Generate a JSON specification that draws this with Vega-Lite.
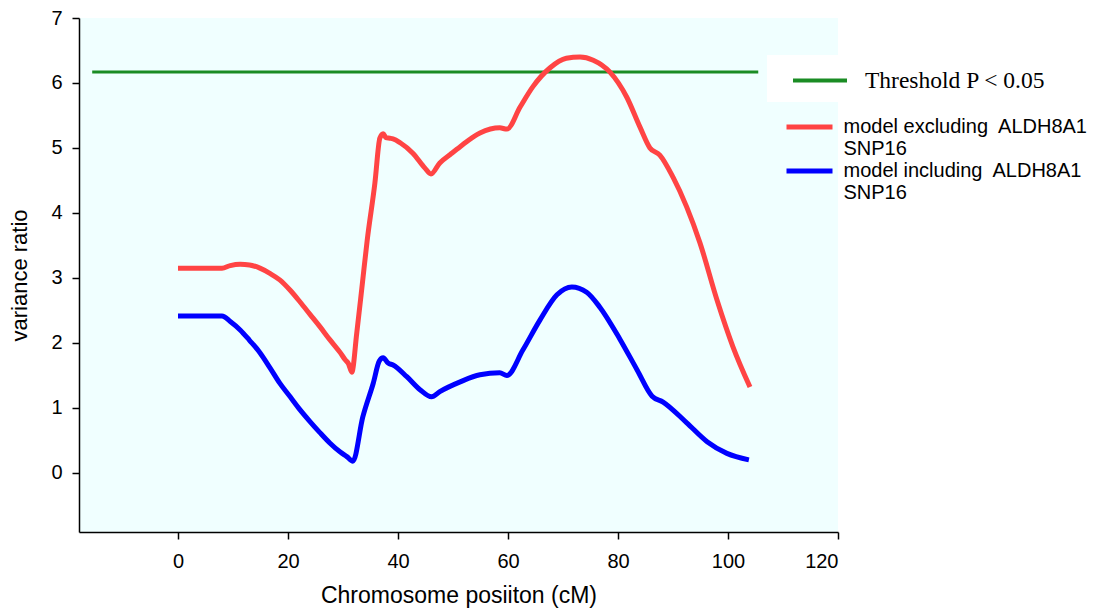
{
  "$schema": "https://vega.github.io/schema/vega-lite/v6.json",
  "width": 759,
  "height": 514,
  "autosize": {"type": "none"},
  "padding": {"left": 79, "top": 18, "right": 272, "bottom": 81},
  "background": "white",
  "config": {
    "view": {"fill": "#f0ffff", "stroke": null},
    "axis": {
      "grid": false,
      "domainColor": "black",
      "domainWidth": 1.5,
      "tickColor": "black",
      "tickWidth": 1.5,
      "tickSize": 7,
      "labelFont": "Liberation Sans",
      "labelFontSize": 20,
      "labelColor": "black",
      "titleFont": "Liberation Sans",
      "titleFontWeight": "normal",
      "titleColor": "black"
    }
  },
  "datasets": {
    "threshold": [
      {"pos": -15.6, "ratio": 6.17, "series": "Threshold P < 0.05"},
      {"pos": 105.5, "ratio": 6.17, "series": "Threshold P < 0.05"}
    ],
    "models": [
      {"pos": 0, "ratio": 3.15, "model": "model excluding"},
      {"pos": 4, "ratio": 3.15, "model": "model excluding"},
      {"pos": 8, "ratio": 3.15, "model": "model excluding"},
      {"pos": 9.5, "ratio": 3.19, "model": "model excluding"},
      {"pos": 11.3, "ratio": 3.21, "model": "model excluding"},
      {"pos": 13, "ratio": 3.2, "model": "model excluding"},
      {"pos": 14.9, "ratio": 3.15, "model": "model excluding"},
      {"pos": 16.7, "ratio": 3.07, "model": "model excluding"},
      {"pos": 18.5, "ratio": 2.97, "model": "model excluding"},
      {"pos": 20.4, "ratio": 2.81, "model": "model excluding"},
      {"pos": 22.2, "ratio": 2.63, "model": "model excluding"},
      {"pos": 24, "ratio": 2.44, "model": "model excluding"},
      {"pos": 25.8, "ratio": 2.25, "model": "model excluding"},
      {"pos": 27.6, "ratio": 2.05, "model": "model excluding"},
      {"pos": 29.5, "ratio": 1.85, "model": "model excluding"},
      {"pos": 30.4, "ratio": 1.74, "model": "model excluding"},
      {"pos": 31, "ratio": 1.68, "model": "model excluding"},
      {"pos": 31.6, "ratio": 1.55, "model": "model excluding"},
      {"pos": 32.5, "ratio": 2.15, "model": "model excluding"},
      {"pos": 33.5, "ratio": 2.9, "model": "model excluding"},
      {"pos": 34.4, "ratio": 3.58, "model": "model excluding"},
      {"pos": 35.8, "ratio": 4.46, "model": "model excluding"},
      {"pos": 36.7, "ratio": 5.15, "model": "model excluding"},
      {"pos": 37.3, "ratio": 5.22, "model": "model excluding"},
      {"pos": 37.8, "ratio": 5.16, "model": "model excluding"},
      {"pos": 38.5, "ratio": 5.15, "model": "model excluding"},
      {"pos": 39.1, "ratio": 5.14, "model": "model excluding"},
      {"pos": 40.4, "ratio": 5.08, "model": "model excluding"},
      {"pos": 42.7, "ratio": 4.92, "model": "model excluding"},
      {"pos": 44.9, "ratio": 4.69, "model": "model excluding"},
      {"pos": 46, "ratio": 4.6, "model": "model excluding"},
      {"pos": 47.6, "ratio": 4.77, "model": "model excluding"},
      {"pos": 49.5, "ratio": 4.9, "model": "model excluding"},
      {"pos": 51.3, "ratio": 5.02, "model": "model excluding"},
      {"pos": 54.9, "ratio": 5.23, "model": "model excluding"},
      {"pos": 58.5, "ratio": 5.31, "model": "model excluding"},
      {"pos": 59.8, "ratio": 5.29, "model": "model excluding"},
      {"pos": 62.2, "ratio": 5.63, "model": "model excluding"},
      {"pos": 64.5, "ratio": 5.94, "model": "model excluding"},
      {"pos": 67.6, "ratio": 6.23, "model": "model excluding"},
      {"pos": 70.6, "ratio": 6.38, "model": "model excluding"},
      {"pos": 73.1, "ratio": 6.4, "model": "model excluding"},
      {"pos": 75.5, "ratio": 6.35, "model": "model excluding"},
      {"pos": 78.5, "ratio": 6.17, "model": "model excluding"},
      {"pos": 81.6, "ratio": 5.78, "model": "model excluding"},
      {"pos": 84, "ratio": 5.32, "model": "model excluding"},
      {"pos": 85.8, "ratio": 5.0, "model": "model excluding"},
      {"pos": 87.6, "ratio": 4.89, "model": "model excluding"},
      {"pos": 90, "ratio": 4.55, "model": "model excluding"},
      {"pos": 92.5, "ratio": 4.09, "model": "model excluding"},
      {"pos": 94.9, "ratio": 3.54, "model": "model excluding"},
      {"pos": 98, "ratio": 2.66, "model": "model excluding"},
      {"pos": 100.9, "ratio": 1.94, "model": "model excluding"},
      {"pos": 104, "ratio": 1.32, "model": "model excluding"},
      {"pos": 0, "ratio": 2.415, "model": "model including"},
      {"pos": 4, "ratio": 2.415, "model": "model including"},
      {"pos": 8, "ratio": 2.415, "model": "model including"},
      {"pos": 9.5, "ratio": 2.33, "model": "model including"},
      {"pos": 11.3, "ratio": 2.2, "model": "model including"},
      {"pos": 13, "ratio": 2.04, "model": "model including"},
      {"pos": 14.9, "ratio": 1.85, "model": "model including"},
      {"pos": 16.7, "ratio": 1.62, "model": "model including"},
      {"pos": 18.5, "ratio": 1.38, "model": "model including"},
      {"pos": 20.4, "ratio": 1.17, "model": "model including"},
      {"pos": 22.2, "ratio": 0.97, "model": "model including"},
      {"pos": 24, "ratio": 0.79, "model": "model including"},
      {"pos": 25.8, "ratio": 0.62, "model": "model including"},
      {"pos": 27.6, "ratio": 0.46, "model": "model including"},
      {"pos": 29.5, "ratio": 0.32, "model": "model including"},
      {"pos": 30.7, "ratio": 0.25, "model": "model including"},
      {"pos": 31.8, "ratio": 0.18, "model": "model including"},
      {"pos": 33.6, "ratio": 0.86, "model": "model including"},
      {"pos": 35.5, "ratio": 1.38, "model": "model including"},
      {"pos": 36.6, "ratio": 1.72, "model": "model including"},
      {"pos": 37.3, "ratio": 1.77, "model": "model including"},
      {"pos": 38.2, "ratio": 1.69, "model": "model including"},
      {"pos": 39.1, "ratio": 1.66, "model": "model including"},
      {"pos": 41.6, "ratio": 1.48, "model": "model including"},
      {"pos": 44, "ratio": 1.28, "model": "model including"},
      {"pos": 46.1, "ratio": 1.17, "model": "model including"},
      {"pos": 47.6, "ratio": 1.25, "model": "model including"},
      {"pos": 51.3, "ratio": 1.4, "model": "model including"},
      {"pos": 54.9, "ratio": 1.51, "model": "model including"},
      {"pos": 58.5, "ratio": 1.54, "model": "model including"},
      {"pos": 59.8, "ratio": 1.5, "model": "model including"},
      {"pos": 62.7, "ratio": 1.89, "model": "model including"},
      {"pos": 65.8, "ratio": 2.35, "model": "model including"},
      {"pos": 68.9, "ratio": 2.74, "model": "model including"},
      {"pos": 71.6, "ratio": 2.86, "model": "model including"},
      {"pos": 74.3, "ratio": 2.78, "model": "model including"},
      {"pos": 76.7, "ratio": 2.55, "model": "model including"},
      {"pos": 80.4, "ratio": 2.05, "model": "model including"},
      {"pos": 83.5, "ratio": 1.58, "model": "model including"},
      {"pos": 86.2, "ratio": 1.18, "model": "model including"},
      {"pos": 88.2, "ratio": 1.09, "model": "model including"},
      {"pos": 92.5, "ratio": 0.77, "model": "model including"},
      {"pos": 96.2, "ratio": 0.48, "model": "model including"},
      {"pos": 99.8, "ratio": 0.3, "model": "model including"},
      {"pos": 103.8, "ratio": 0.2, "model": "model including"}
    ]
  },
  "encoding": {
    "x": {
      "field": "pos",
      "type": "quantitative",
      "scale": {"domain": [-18, 120], "nice": false, "zero": false},
      "axis": {"values": [0, 20, 40, 60, 80, 100, 120], "title": "Chromosome posiiton (cM)", "titleFontSize": 23, "labelPadding": 12, "titlePadding": 13}
    },
    "y": {
      "field": "ratio",
      "type": "quantitative",
      "scale": {"domain": [-0.91, 7], "nice": false, "zero": false},
      "axis": {"values": [0, 1, 2, 3, 4, 5, 6, 7], "title": "variance ratio", "titleFontSize": 22, "labelPadding": 10, "titlePadding": 19}
    }
  },
  "layer": [
    {
      "data": {"name": "threshold"},
      "mark": {"type": "line", "strokeWidth": 3},
      "encoding": {
        "color": {
          "field": "series",
          "type": "nominal",
          "scale": {"domain": ["Threshold P < 0.05"], "range": ["#1a8c24"]},
          "legend": {
            "title": null,
            "orient": "none",
            "legendX": 688,
            "legendY": 37,
            "fillColor": "white",
            "padding": 10,
            "symbolOffset": 27.5,
            "symbolType": "M-2,0H2",
            "symbolSize": 729,
            "symbolStrokeWidth": 4,
            "labelOffset": 29.5,
            "labelFont": "Liberation Serif",
            "labelFontSize": 23.5,
            "labelColor": "black",
            "labelLimit": 400
          }
        }
      }
    },
    {
      "data": {"name": "models"},
      "mark": {"type": "line", "strokeWidth": 5, "interpolate": "monotone"},
      "encoding": {
        "color": {
          "field": "model",
          "type": "nominal",
          "scale": {"domain": ["model excluding", "model including"], "range": ["#ff4444", "#0000ff"]},
          "legend": {
            "title": null,
            "orient": "none",
            "legendX": 703,
            "legendY": 99,
            "padding": 0,
            "symbolOffset": 17.5,
            "symbolType": "M-4,0H4",
            "symbolSize": 132.25,
            "symbolStrokeWidth": 5,
            "labelOffset": 24,
            "labelFont": "Liberation Sans",
            "labelFontSize": 20,
            "labelColor": "black",
            "labelLimit": 400,
            "labelLineHeight": 22,
            "rowPadding": 2,
            "labelExpr": "[datum.label + '\u00a0 ALDH8A1', 'SNP16']"
          }
        }
      }
    }
  ],
  "resolve": {"scale": {"color": "independent"}}
}
